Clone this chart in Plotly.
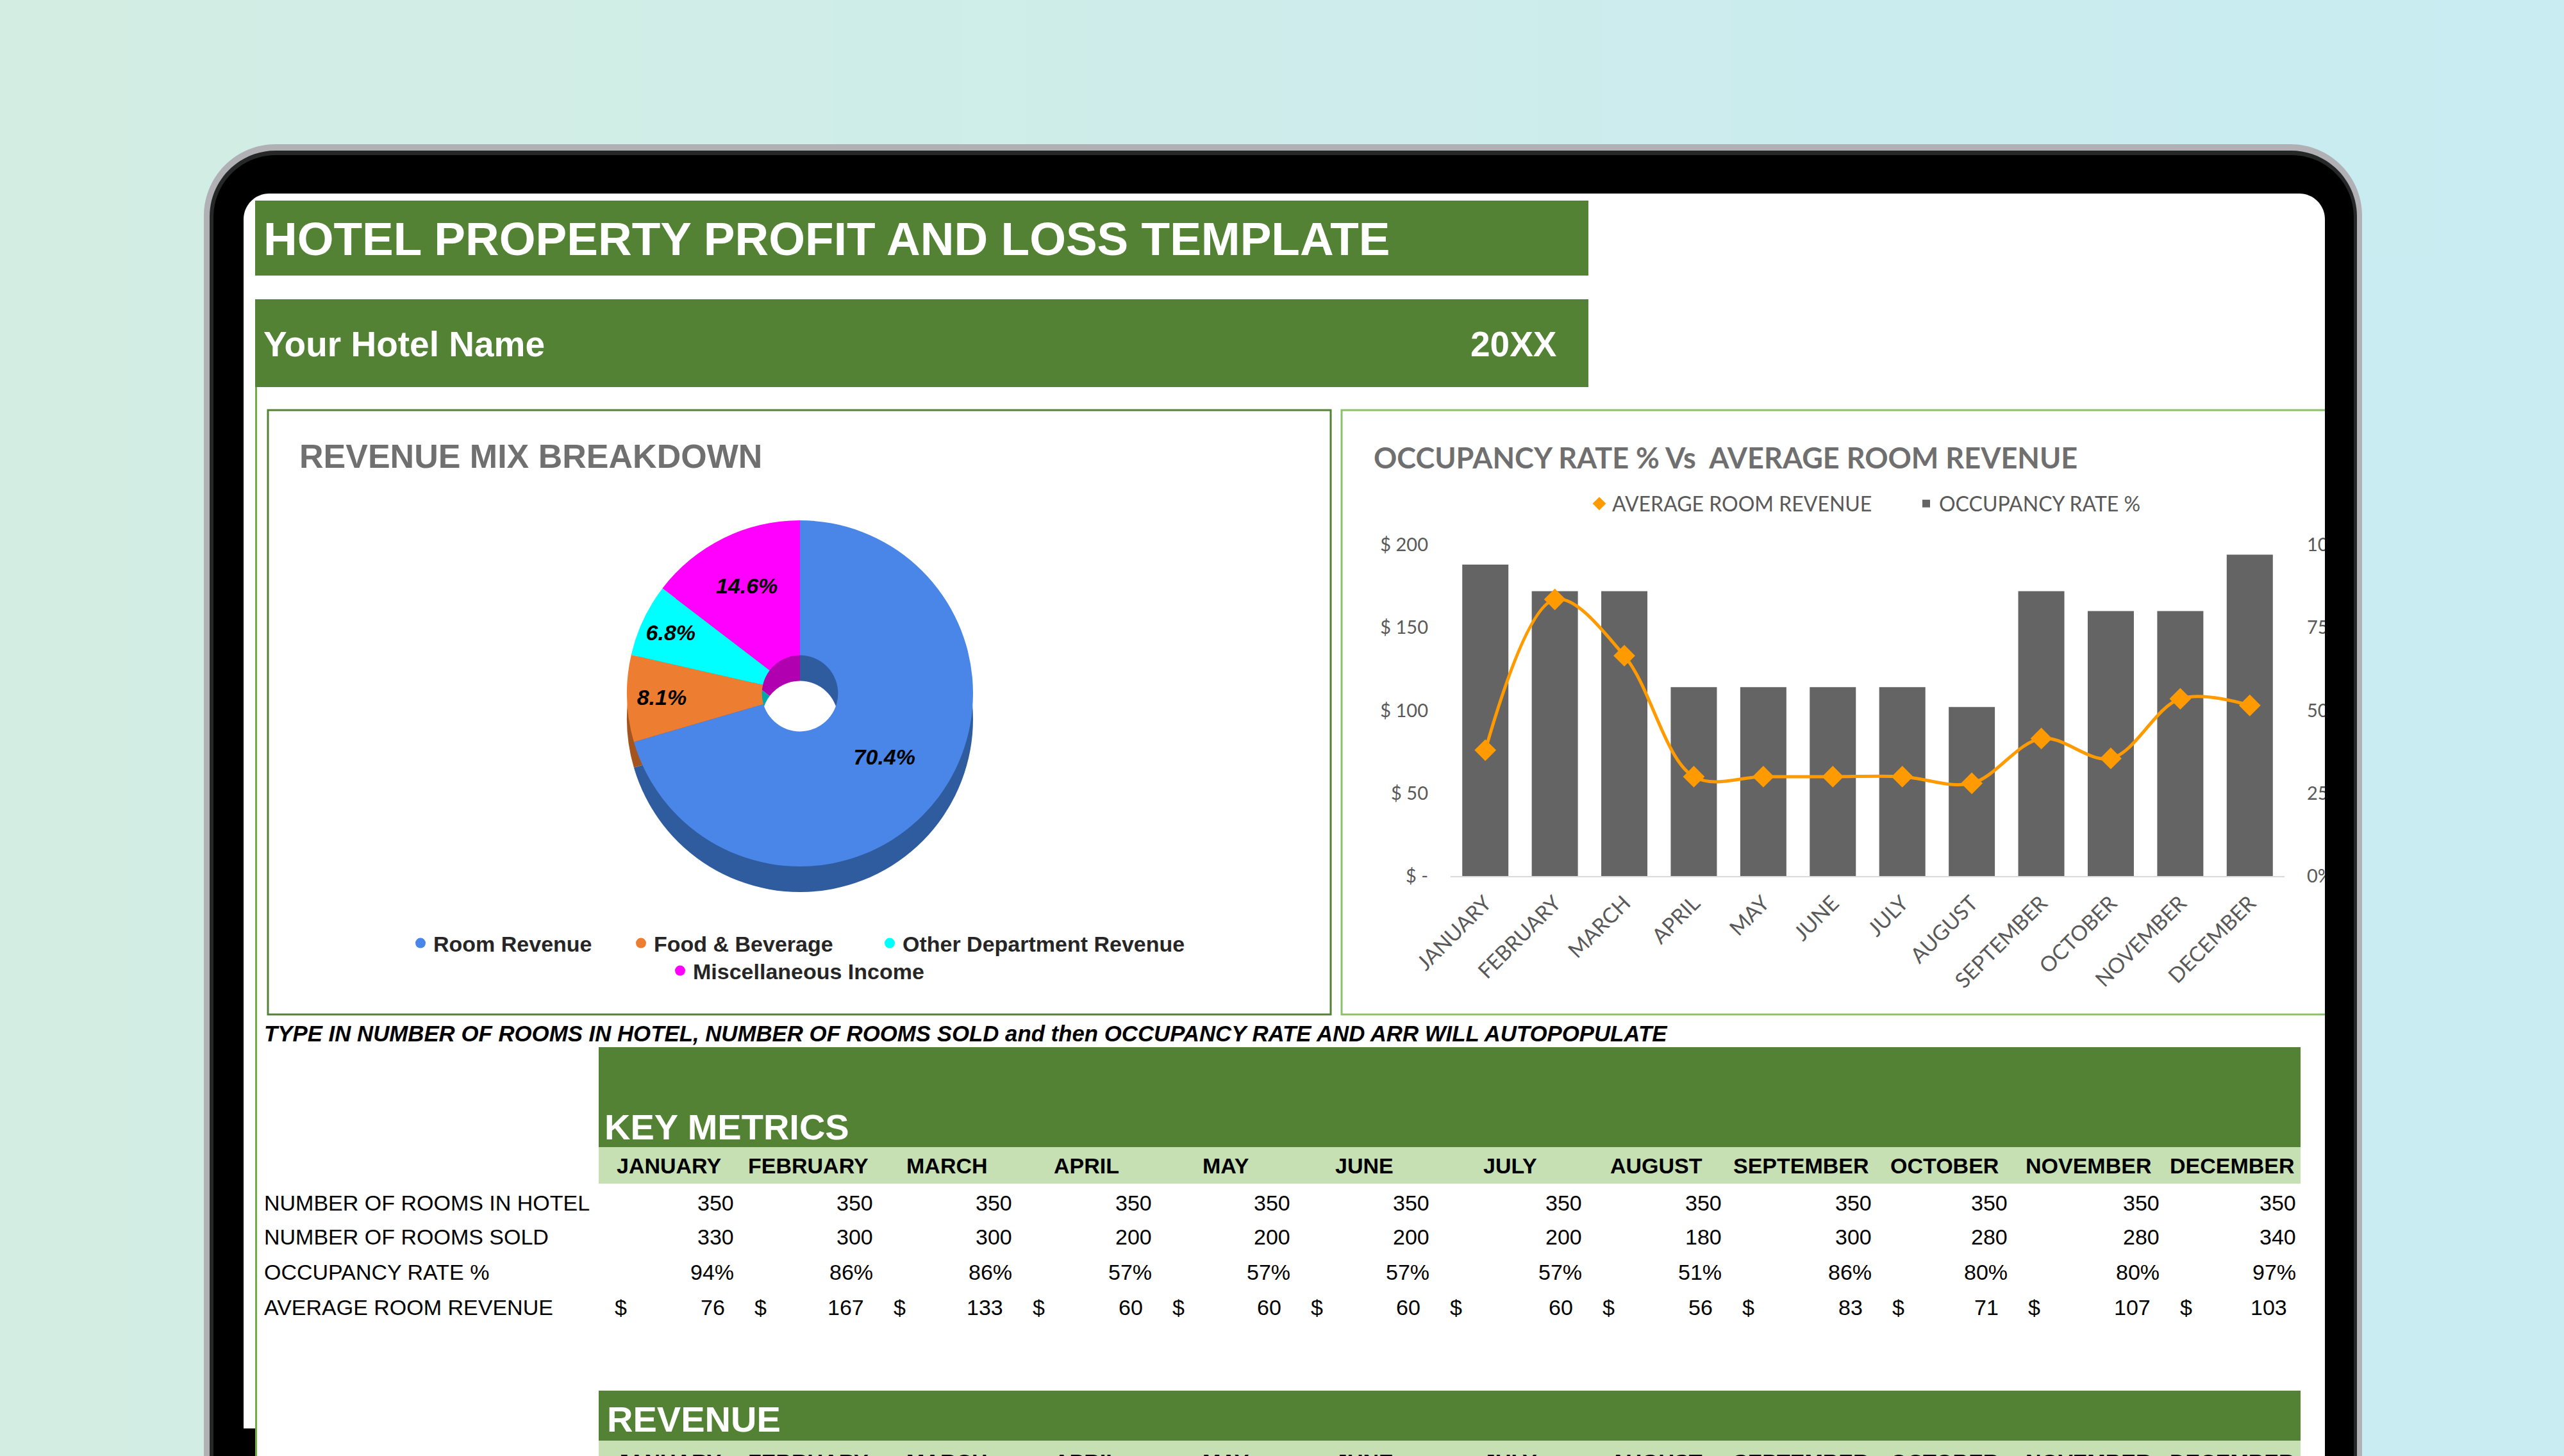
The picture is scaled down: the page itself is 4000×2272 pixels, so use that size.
import plotly.graph_objects as go

W, H = 4000, 2272

# ---------------- data ----------------
months = ["JANUARY", "FEBRUARY", "MARCH", "APRIL", "MAY", "JUNE", "JULY",
          "AUGUST", "SEPTEMBER", "OCTOBER", "NOVEMBER", "DECEMBER"]
rooms_in_hotel = [350, 350, 350, 350, 350, 350, 350, 350, 350, 350, 350, 350]
rooms_sold = [330, 300, 300, 200, 200, 200, 200, 180, 300, 280, 280, 340]
occupancy_pct = [94, 86, 86, 57, 57, 57, 57, 51, 86, 80, 80, 97]
avg_room_revenue = [76, 167, 133, 60, 60, 60, 60, 56, 83, 71, 107, 103]

revenue_labels = ["Room Revenue", "Food & Beverage", "Other Department Revenue", "Miscellaneous Income"]
revenue_share = [70.4, 8.1, 6.8, 14.6]

row_labels = ["NUMBER OF ROOMS IN HOTEL", "NUMBER OF ROOMS SOLD", "OCCUPANCY RATE %", "AVERAGE ROOM REVENUE"]
left_tick_vals = [0, 50, 100, 150, 200]
left_tick_text = ["$ -", "$ 50", "$ 100", "$ 150", "$ 200"]
right_tick_vals = [0, 25, 50, 75, 100]
right_tick_text = ["0%", "25%", "50%", "75%", "100%"]

# ---------------- styling / layout constants ----------------
GREEN = "#548235"
LIGHT_GREEN = "#c6e0b4"
PIE_TOP = ["#4a86e8", "#ed7d31", "#00ffff", "#ff00ff"]
PIE_SIDE = ["#2f5c9e", "#a4551f", "#00a9a9", "#b000b0"]
ARIAL = "Liberation Sans"
CHART_FONT = "Lato"
col_edges = [934, 1152, 1369, 1586, 1804, 2020, 2237, 2475, 2693, 2927, 3139, 3376, 3589]
# legend entry anchor points (left x, centre y) in screen pixels
pie_legend_pos = [(636, 1472), (980, 1472), (1368, 1472), (1041, 1515)]
bar_legend_pos = [(2475, 786), (2985, 786)]


def px(x):
    return x / W


def py(y):
    return 1 - y / H


shapes = []
annotations = []


def rect(x0, y0, x1, y1, color, layer="below", line=None):
    shapes.append(dict(type="rect", xref="paper", yref="paper",
                       x0=px(x0), x1=px(x1), y0=py(y1), y1=py(y0),
                       fillcolor=color, layer=layer,
                       line=line if line is not None else dict(width=0)))


def rounded_top(x0, y0, x1, y1, r, color, layer="below"):
    k = 0.5523 * r
    p = (f"M {px(x0)},{py(y1)} L {px(x0)},{py(y0 + r)} "
         f"C {px(x0)},{py(y0 + r - k)} {px(x0 + r - k)},{py(y0)} {px(x0 + r)},{py(y0)} "
         f"L {px(x1 - r)},{py(y0)} "
         f"C {px(x1 - r + k)},{py(y0)} {px(x1)},{py(y0 + r - k)} {px(x1)},{py(y0 + r)} "
         f"L {px(x1)},{py(y1)} Z")
    shapes.append(dict(type="path", xref="paper", yref="paper", path=p,
                       fillcolor=color, line=dict(width=0), layer=layer))


def txt(x, y, s, size, color="#000000", bold=False, italic=False, family=ARIAL, xanchor="left"):
    annotations.append(dict(xref="paper", yref="paper", x=px(x), y=py(y), text=s,
                            showarrow=False, xanchor=xanchor, yanchor="middle",
                            borderpad=0,
                            font=dict(size=size, color=color, family=family,
                                      weight="bold" if bold else "normal",
                                      style="italic" if italic else "normal")))


# ---------------- background gradient ----------------
c0 = (0xd3, 0xed, 0xe3)
c1 = (0xc8, 0xec, 0xf2)
N = 40
for i in range(N):
    t = i / (N - 1)
    c = tuple(round(c0[j] + (c1[j] - c0[j]) * t) for j in range(3))
    rect(i * W / N, -5, (i + 1) * W / N + 2, H + 5, "rgb(%d,%d,%d)" % c)

# ---------------- tablet frame ----------------
rounded_top(318, 225, 3685, H + 40, 112, "#b1b0b5")
rounded_top(327, 235, 3677, H + 40, 103, "#262828")
rounded_top(333, 242, 3672, H + 40, 97, "#000000")
rounded_top(380, 302, 3627, H + 40, 40, "#ffffff")
rect(380, 2229, 398, H + 5, "#000000")
rect(398, 604, 401, H + 5, "#70ad47")

# header bars
rect(398, 313, 2478, 430, GREEN)
rect(398, 467, 2478, 604, GREEN)

# chart panels
rect(418, 640, 2076, 1583, "#ffffff", line=dict(color=GREEN, width=3))
rect(2093, 640, 3645, 1583, "#ffffff", line=dict(color="#8cc168", width=3))

# table bars
rect(934, 1634, 3589, 1790, GREEN)
rect(934, 1790, 3589, 1847, LIGHT_GREEN)
rect(934, 2170, 3589, 2248, GREEN)
rect(934, 2248, 3589, H + 5, LIGHT_GREEN)

# right bezel drawn above the chart to clip the cut-off axis
rect(3627, 400, 3672, H + 5, "#000000", layer="above")
rect(3672, 400, 3677, H + 5, "#262828", layer="above")
rect(3677, 400, 3685, H + 5, "#b1b0b5", layer="above")
rect(3685, 400, W + 5, H + 5, "rgb(200,236,242)", layer="above")

# ---------------- texts ----------------
txt(410, 372, "HOTEL PROPERTY PROFIT AND LOSS TEMPLATE", 73, "#ffffff", bold=True)
txt(410, 537, "Your Hotel Name", 55, "#ffffff", bold=True)
txt(2430, 537, "20XX", 55, "#ffffff", bold=True, xanchor="right")
txt(466, 712, "REVENUE MIX BREAKDOWN", 52, "#707070", bold=True)
txt(2142, 714, "OCCUPANCY RATE % Vs&nbsp; AVERAGE ROOM REVENUE", 45, "#6f6f6f", bold=True, family=CHART_FONT)
txt(411, 1612, "TYPE IN NUMBER OF ROOMS IN HOTEL, NUMBER OF ROOMS SOLD and then OCCUPANCY RATE AND ARR WILL AUTOPOPULATE",
    34.8, "#000000", bold=True, italic=True)
txt(942, 1758, "KEY METRICS", 56, "#ffffff", bold=True)
txt(946, 2214, "REVENUE", 56, "#ffffff", bold=True)

row_y = [1877, 1930, 1985, 2040]
for lbl, yy in zip(row_labels, row_y):
    txt(411, yy, lbl, 34, "#000000")

for i, m in enumerate(months):
    left, right = col_edges[i], col_edges[i + 1]
    center = (left + right) / 2
    txt(center, 1819, m, 34, "#000000", bold=True, xanchor="center")
    txt(center, 2281, m, 34, "#000000", bold=True, xanchor="center")
    txt(right - 6, row_y[0], str(rooms_in_hotel[i]), 34, xanchor="right")
    txt(right - 6, row_y[1], str(rooms_sold[i]), 34, xanchor="right")
    txt(right - 6, row_y[2], f"{occupancy_pct[i]}%", 34, xanchor="right")
    txt(left + 24, row_y[3], "$", 34)
    txt(right - 20, row_y[3], str(avg_room_revenue[i]), 34, xanchor="right")

# ---------------- figure ----------------
fig = go.Figure()

# 3D-ish donut: darker side layer shifted down, then the top layer
cx, cy, r, depth = 1248, 1082, 270, 40
fig.add_trace(go.Pie(labels=revenue_labels, values=revenue_share, hole=0.22, sort=False,
                     direction="clockwise", rotation=0,
                     marker=dict(colors=PIE_SIDE, line=dict(width=0)),
                     textinfo="none", hoverinfo="skip", showlegend=False,
                     domain=dict(x=[px(cx - r), px(cx + r)], y=[py(cy + depth + r), py(cy + depth - r)])))
fig.add_trace(go.Pie(labels=revenue_labels, values=revenue_share, hole=0.22, sort=False,
                     direction="clockwise", rotation=0,
                     marker=dict(colors=PIE_TOP, line=dict(width=0)),
                     texttemplate="%{value:.1f}%", textposition="inside",
                     insidetextorientation="horizontal",
                     textfont=dict(size=34, color="#000000", family=ARIAL, weight="bold", style="italic"),
                     showlegend=False, name="Revenue Mix",
                     domain=dict(x=[px(cx - r), px(cx + r)], y=[py(cy + r), py(cy - r)])))

# pie legend entries, each in its own legend box to match the original spacing
pie_legend_names = ["legend2", "legend3", "legend4", "legend5"]
for lbl, col, lg in zip(revenue_labels, PIE_TOP, pie_legend_names):
    fig.add_trace(go.Scatter(x=[None], y=[None], mode="markers", name=lbl,
                             marker=dict(symbol="circle", size=16, color=col),
                             xaxis="x", yaxis="y2", hoverinfo="skip", legend=lg))

# combo chart
fig.add_trace(go.Bar(x=months, y=occupancy_pct, name="OCCUPANCY RATE %",
                     marker=dict(color="#646464", line=dict(width=0)),
                     xaxis="x", yaxis="y", legend="legend6"))
fig.add_trace(go.Scatter(x=months, y=avg_room_revenue, mode="lines",
                         line=dict(color="#ff9a00", width=5, shape="spline", smoothing=1),
                         xaxis="x", yaxis="y2", showlegend=False, hoverinfo="skip"))
fig.add_trace(go.Scatter(x=months, y=avg_room_revenue, mode="markers", name="AVERAGE ROOM REVENUE",
                         marker=dict(symbol="diamond", size=26, color="#ff9a00"),
                         xaxis="x", yaxis="y2", legend="legend"))

tick_font = dict(family=CHART_FONT, size=29, color="#595959")


def legend_box(pos, font):
    return dict(x=px(pos[0]), y=py(pos[1]), xanchor="left", yanchor="middle", orientation="h",
                font=font, bgcolor="rgba(0,0,0,0)", borderwidth=0,
                itemclick=False, itemdoubleclick=False)


pie_font = dict(family=ARIAL, size=34, color="#262626", weight="bold")
bar_font = dict(family=CHART_FONT, size=32, color="#595959")

fig.update_layout(
    width=W, height=H,
    margin=dict(l=0, r=0, t=0, b=0, pad=0, autoexpand=False),
    paper_bgcolor="rgb(206,237,234)",
    plot_bgcolor="rgba(0,0,0,0)",
    shapes=shapes,
    annotations=annotations,
    bargap=0.336,
    uniformtext=dict(mode="show", minsize=32),
    xaxis=dict(domain=[px(2263), px(3564)], anchor="y", type="category",
               categoryorder="array", categoryarray=months, range=[-0.5, 11.5],
               tickangle=-45,
               tickfont=dict(family=CHART_FONT, size=33, color="#595959"),
               showgrid=False, zeroline=False, showline=True, linecolor="#d9d9d9", linewidth=2,
               ticks="", ticklabelstandoff=8, fixedrange=True, automargin=False),
    yaxis=dict(domain=[py(1367), py(850)], anchor="x", side="right", range=[0, 100],
               tickvals=right_tick_vals, ticktext=right_tick_text, tickfont=tick_font,
               showgrid=False, zeroline=False, showline=False, ticks="",
               ticklabelstandoff=34, automargin=False),
    yaxis2=dict(overlaying="y", anchor="x", side="left", range=[0, 200],
                tickvals=left_tick_vals, ticktext=left_tick_text, tickfont=tick_font,
                showgrid=False, zeroline=False, showline=False, ticks="",
                ticklabelstandoff=34, automargin=False),
    legend=legend_box(bar_legend_pos[0], bar_font),
    legend6=legend_box(bar_legend_pos[1], bar_font),
    legend2=legend_box(pie_legend_pos[0], pie_font),
    legend3=legend_box(pie_legend_pos[1], pie_font),
    legend4=legend_box(pie_legend_pos[2], pie_font),
    legend5=legend_box(pie_legend_pos[3], pie_font),
    showlegend=True,
)

fig.write_html("out.html")
